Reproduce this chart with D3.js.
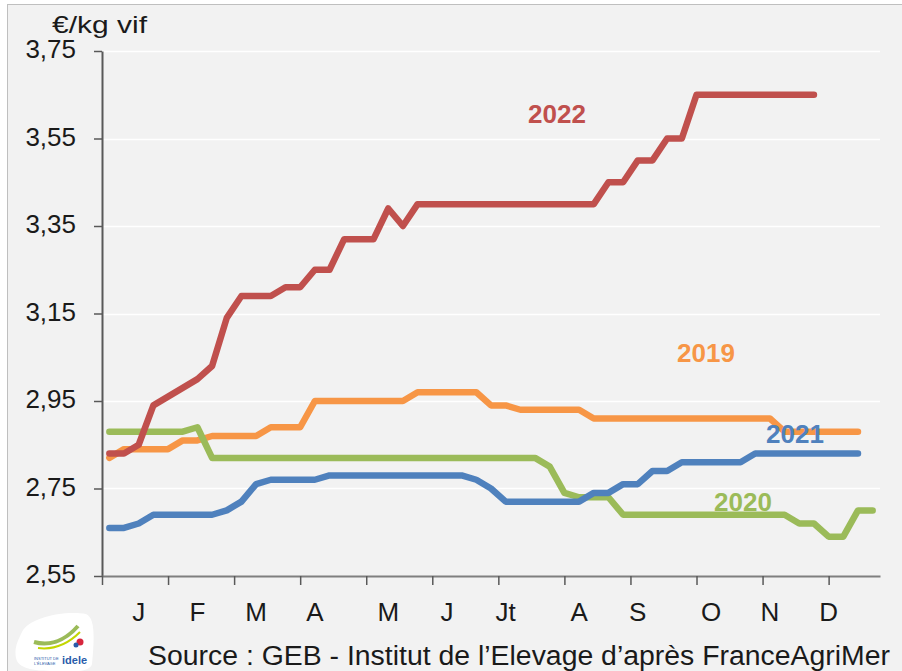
<!DOCTYPE html>
<html>
<head>
<meta charset="utf-8">
<script src="https://cdn.jsdelivr.net/npm/d3@7"></script>
<style>
  body { margin: 0; background: #ffffff; }
  svg { display: block; font-family: "Liberation Sans", Arial, sans-serif; }
</style>
</head>
<body>
<div id="chart"></div>
<script>
// Weekly price, €/kg vif, one value per week
var prices2019 = [2.82,
  2.84, 2.84, 2.84, 2.84, 2.86, 2.86, 2.87, 2.87, 2.87, 2.87,
  2.89, 2.89, 2.89, 2.95, 2.95, 2.95, 2.95, 2.95, 2.95, 2.95,
  2.97, 2.97, 2.97, 2.97, 2.97, 2.94, 2.94, 2.93, 2.93, 2.93,
  2.93, 2.93, 2.91, 2.91, 2.91, 2.91, 2.91, 2.91, 2.91, 2.91,
  2.91, 2.91, 2.91, 2.91, 2.91, 2.88, 2.88, 2.88, 2.88, 2.88, 2.88];
var prices2020 = [2.88, 2.88, 2.88, 2.88, 2.88, 2.88, 2.89,
  2.82, 2.82, 2.82, 2.82, 2.82, 2.82, 2.82, 2.82, 2.82, 2.82,
  2.82, 2.82, 2.82, 2.82, 2.82, 2.82, 2.82, 2.82, 2.82, 2.82,
  2.82, 2.82, 2.82, 2.80, 2.74, 2.73, 2.73, 2.73,
  2.69, 2.69, 2.69, 2.69, 2.69, 2.69, 2.69, 2.69, 2.69, 2.69, 2.69, 2.69,
  2.67, 2.67, 2.64, 2.64, 2.70, 2.70];
var prices2021 = [2.66, 2.66, 2.67, 2.69, 2.69, 2.69, 2.69, 2.69,
  2.70, 2.72, 2.76, 2.77, 2.77, 2.77, 2.77,
  2.78, 2.78, 2.78, 2.78, 2.78, 2.78, 2.78, 2.78, 2.78, 2.78,
  2.77, 2.75, 2.72, 2.72, 2.72, 2.72, 2.72, 2.72,
  2.74, 2.74, 2.76, 2.76, 2.79, 2.79, 2.81, 2.81, 2.81, 2.81, 2.81,
  2.83, 2.83, 2.83, 2.83, 2.83, 2.83, 2.83, 2.83];
var prices2022 = [2.83, 2.83, 2.85, 2.94, 2.96, 2.98, 3.00, 3.03,
  3.14, 3.19, 3.19, 3.19, 3.21, 3.21, 3.25, 3.25, 3.32, 3.32, 3.32,
  3.39, 3.35, 3.40, 3.40, 3.40, 3.40, 3.40, 3.40, 3.40, 3.40, 3.40,
  3.40, 3.40, 3.40, 3.40, 3.45, 3.45, 3.50, 3.50, 3.55, 3.55,
  3.65, 3.65, 3.65, 3.65, 3.65, 3.65, 3.65, 3.65, 3.65];

var years = ['2019', '2020', '2021', '2022'];
var yearColors = ['#f79646', '#9bbb59', '#4f81bd', '#c0504d'];
var monthLabels = ['J', 'F', 'M', 'A', 'M', 'J', 'Jt', 'A', 'S', 'O', 'N', 'D'];
var monthLabelWeeks = [2, 6, 10, 14, 19, 23, 27, 32, 36, 41, 45, 49];
var yTicks = [2.55, 2.75, 2.95, 3.15, 3.35, 3.55, 3.75];
var nWeeks = 53;

var series = [prices2019, prices2020, prices2021, prices2022];

var W = 902, H = 671;
var svg = d3.select('#chart').append('svg')
  .attr('width', W)
  .attr('height', H);

// Background panel
svg.append('rect')
  .attr('x', 7.5).attr('y', 4.5)
  .attr('width', W).attr('height', H)
  .attr('fill', '#f2f2f2')
  .attr('stroke', '#bfbfbf')
  .attr('stroke-width', 1);

var x = d3.scaleLinear().domain([0, nWeeks]).range([102, 880]);
var y = d3.scaleLinear().domain([2.55, 3.75]).range([576, 51]);
var fmt = function(d) { return d3.format('.2f')(d).replace('.', ','); };

// Gridlines
svg.append('g').selectAll('line')
  .data(yTicks.slice(1))
  .join('line')
    .attr('x1', x(0)).attr('x2', x(nWeeks))
    .attr('y1', d => Math.round(y(d)) + 0.5)
    .attr('y2', d => Math.round(y(d)) + 0.5)
    .attr('stroke', '#ffffff')
    .attr('stroke-width', 1.5);

// Y axis
var yAxis = svg.append('g')
  .attr('transform', 'translate(' + x(0) + ',0)')
  .call(d3.axisLeft(y).tickValues(yTicks).tickFormat(fmt).tickSize(8).tickSizeOuter(0).tickPadding(18));
yAxis.select('.domain').attr('stroke', '#595959').attr('stroke-width', 2);
yAxis.selectAll('.tick line').attr('stroke', '#595959').attr('stroke-width', 1.5);
yAxis.selectAll('.tick text')
  .attr('font-size', 26)
  .attr('fill', '#1a1a1a')
  .attr('font-family', '"Liberation Sans", Arial, sans-serif')
  .attr('dy', '0.25em');

// X axis: ticks every 4.5 weeks, month labels placed on given weeks
var xAxis = svg.append('g')
  .attr('transform', 'translate(0,' + y(2.55) + ')')
  .call(d3.axisBottom(x).tickValues(d3.range(0, nWeeks, 4.5)).tickFormat('').tickSize(9).tickSizeOuter(0));
xAxis.select('.domain').attr('stroke', '#7f7f7f').attr('stroke-width', 2);
xAxis.selectAll('.tick line').attr('stroke', '#595959').attr('stroke-width', 1.5);

svg.append('g').selectAll('text')
  .data(monthLabels)
  .join('text')
    .attr('x', (d, i) => x(monthLabelWeeks[i] + 0.5))
    .attr('y', 621)
    .attr('text-anchor', 'middle')
    .attr('font-size', 26)
    .attr('fill', '#1a1a1a')
    .text(d => d);

// Lines
var line = d3.line()
  .x((d, i) => x(i + 0.5))
  .y(d => y(d));

svg.append('g').selectAll('path')
  .data(series)
  .join('path')
    .attr('d', line)
    .attr('fill', 'none')
    .attr('stroke', (d, i) => yearColors[i])
    .attr('stroke-width', 6.5)
    .attr('stroke-linecap', 'round')
    .attr('stroke-linejoin', 'round');

// Year labels
var yearLabelPos = [[706, 362], [743, 511], [795, 443], [557, 123]];
svg.append('g').selectAll('text')
  .data(years)
  .join('text')
    .attr('x', (d, i) => yearLabelPos[i][0])
    .attr('y', (d, i) => yearLabelPos[i][1])
    .attr('text-anchor', 'middle')
    .attr('font-size', 26)
    .attr('font-weight', 'bold')
    .attr('fill', (d, i) => yearColors[i])
    .text(d => d);

// Unit label
svg.append('text')
  .attr('x', 52).attr('y', 33)
  .attr('font-size', 24)
  .attr('fill', '#1a1a1a')
  .attr('textLength', 95)
  .attr('lengthAdjust', 'spacingAndGlyphs')
  .text('€/kg vif');

// Source
svg.append('text')
  .attr('x', 148).attr('y', 665)
  .attr('font-size', 27)
  .attr('fill', '#1a1a1a')
  .attr('textLength', 742)
  .attr('lengthAdjust', 'spacingAndGlyphs')
  .text('Source : GEB - Institut de l’Elevage d’après FranceAgriMer');

// Logo (idele)
var logo = svg.append('g').attr('transform', 'translate(14,612)');
logo.append('path')
  .attr('d', 'M8,20 C14,6 50,-2 72,2 C82,6 80,30 78,52 C76,60 60,60 40,59 C18,59 4,56 2,46 C0,36 4,28 8,20 Z')
  .attr('fill', '#ffffff');
logo.append('path')
  .attr('d', 'M20,30 C34,34 50,30 64,14')
  .attr('fill', 'none').attr('stroke', '#9bbb59').attr('stroke-width', 4);
logo.append('path')
  .attr('d', 'M24,36 C40,38 54,32 66,20')
  .attr('fill', 'none').attr('stroke', '#c3d600').attr('stroke-width', 2);
logo.append('circle').attr('cx', 66).attr('cy', 30).attr('r', 3.5).attr('fill', '#d7263d');
logo.append('circle').attr('cx', 62).attr('cy', 33).attr('r', 2.5).attr('fill', '#2a5caa');
logo.append('text')
  .attr('x', 48).attr('y', 52)
  .attr('font-size', 11).attr('font-weight', 'bold')
  .attr('fill', '#2a5caa')
  .text('idele');
logo.append('text')
  .attr('x', 20).attr('y', 48)
  .attr('font-size', 4).attr('fill', '#2a5caa')
  .text('INSTITUT DE');
logo.append('text')
  .attr('x', 20).attr('y', 53)
  .attr('font-size', 4).attr('fill', '#2a5caa')
  .text("L'ÉLEVAGE");
</script>
</body>
</html>
